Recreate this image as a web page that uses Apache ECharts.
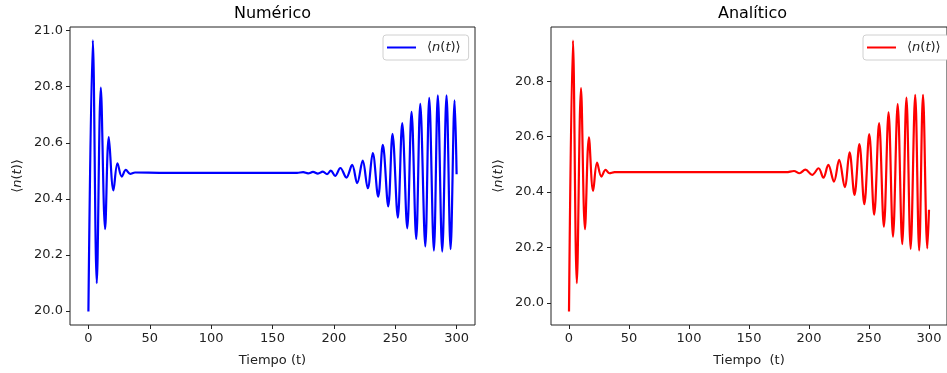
<!DOCTYPE html>
<html>
<head>
<meta charset="utf-8">
<script src="https://cdn.jsdelivr.net/npm/echarts@6/dist/echarts.min.js"></script>
<style>
  html, body { margin: 0; padding: 0; background: #fff; }
  #chart { width: 947px; height: 373px; }
</style>
</head>
<body>
<div id="chart"></div>
<script>
// Numérico: turning points
const tNum = [0, 3.6, 6.8, 10.1, 13.6, 16.6, 20.4, 23.7, 27.2, 30.5, 34, 38, 60, 100, 140, 170,
  175, 179, 183, 187, 191, 194.5, 197.5, 201, 205.3, 210.2, 214.9, 219.0, 223.5, 227.6, 231.7,
  236.1, 239.9, 244.3, 247.8, 252.1, 255.7, 259.8, 263.3, 267.1, 270.4, 274.5, 277.7, 281.5,
  284.7, 288.3, 291.8, 295.1, 298.4, 300]
const nNum = [19.998, 20.965, 20.099, 20.797, 20.292, 20.620, 20.430, 20.527, 20.479, 20.503,
  20.489, 20.494, 20.493, 20.493, 20.493, 20.493, 20.495, 20.491, 20.496, 20.490, 20.497,
  20.488, 20.501, 20.482, 20.510, 20.476, 20.521, 20.456, 20.536, 20.438, 20.563, 20.408,
  20.593, 20.373, 20.632, 20.333, 20.670, 20.295, 20.710, 20.257, 20.739, 20.230, 20.760,
  20.215, 20.769, 20.212, 20.769, 20.221, 20.751, 20.488]

// Analítico
const tAna = [0, 3.3, 6.5, 10.0, 13.3, 16.6, 20.1, 23.4, 27.0, 30.5, 33.7, 38, 60, 100, 140, 175,
  181, 187.5, 192, 197, 202.6, 208.0, 212.0, 216.1, 220.8, 225.1, 229.8, 233.8, 237.9, 242.0,
  246.1, 250.2, 254.3, 258.4, 262.4, 266.3, 270.0, 273.9, 277.7, 281.2, 284.7, 288.5, 291.8,
  295.0, 298.6, 300]
const nAna = [19.969, 20.947, 20.071, 20.775, 20.266, 20.598, 20.404, 20.506, 20.456, 20.480,
  20.468, 20.472, 20.472, 20.472, 20.472, 20.472, 20.472, 20.476, 20.468, 20.481, 20.462,
  20.486, 20.452, 20.498, 20.438, 20.516, 20.418, 20.543, 20.390, 20.573, 20.356, 20.609,
  20.318, 20.649, 20.275, 20.688, 20.239, 20.718, 20.212, 20.741, 20.195, 20.751, 20.189,
  20.751, 20.197, 20.336]

const xTicks = [0, 50, 100, 150, 200, 250, 300]
const yTicksNum = [20.0, 20.2, 20.4, 20.6, 20.8, 21.0]
const yTicksAna = [20.0, 20.2, 20.4, 20.6, 20.8]

const FONT = 'DejaVu Sans'
const INK = '#222'
const nLabel = '⟨{i|n}({i|t})⟩'
const rich = { i: { fontStyle: 'italic', fontFamily: FONT, fontSize: 13, color: INK } }

const chart = echarts.init(document.getElementById('chart'))

function xAxis(idx, name) {
  return {
    type: 'value', gridIndex: idx, min: -15, max: 315,
    name, nameLocation: 'middle', nameGap: 29,
    nameTextStyle: { fontFamily: FONT, fontSize: 13, color: INK },
    axisLine: { show: false, onZero: false },
    axisTick: { show: true, inside: false, length: 4, customValues: xTicks, lineStyle: { color: INK } },
    axisLabel: { customValues: xTicks, margin: 7, fontFamily: FONT, fontSize: 13, color: INK },
    splitLine: { show: false },
  }
}

function yAxis(idx, min, max, ticks) {
  return {
    type: 'value', gridIndex: idx, min, max,
    name: nLabel, nameLocation: 'middle', nameGap: 46,
    nameTextStyle: { fontFamily: FONT, fontSize: 13, color: INK, rich },
    axisLine: { show: false, onZero: false },
    axisTick: { show: true, inside: false, length: 4, customValues: ticks, lineStyle: { color: INK } },
    axisLabel: {
      customValues: ticks, margin: 7, fontFamily: FONT, fontSize: 13, color: INK,
      formatter: v => v.toFixed(1),
    },
    splitLine: { show: false },
  }
}

function legend(left, name) {
  return {
    data: [name], left, top: 35, orient: 'vertical',
    icon: 'rect', itemWidth: 29, itemHeight: 2,
    backgroundColor: '#fff', borderColor: '#d0d0d0', borderWidth: 1, borderRadius: 3,
    padding: [6, 8, 6, 4],
    formatter: () => nLabel,
    textStyle: { fontFamily: FONT, fontSize: 13, color: INK, padding: [0, 0, 0, 6], rich },
  }
}

chart.setOption({
  animation: false,
  title: [
    { text: 'Numérico', left: 272.5, top: 6, textAlign: 'center', padding: 0,
      textStyle: { fontFamily: FONT, fontSize: 16, fontWeight: 'normal', color: '#000' } },
    { text: 'Analítico', left: 752.5, top: 6, textAlign: 'center', padding: 0,
      textStyle: { fontFamily: FONT, fontSize: 16, fontWeight: 'normal', color: '#000' } },
  ],
  grid: [
    { left: 70, top: 27, width: 405, height: 298, show: true, borderColor: INK, borderWidth: 1 },
    { left: 551, top: 27, width: 403, height: 298, show: true, borderColor: INK, borderWidth: 1 },
  ],
  legend: [legend(383, 'num'), legend(863, 'ana')],
  xAxis: [xAxis(0, 'Tiempo (t)'), xAxis(1, 'Tiempo  (t)')],
  yAxis: [yAxis(0, 19.95, 21.013, yTicksNum), yAxis(1, 19.92, 20.996, yTicksAna)],
  series: [
    {
      name: 'num', type: 'line', xAxisIndex: 0, yAxisIndex: 0,
      data: tNum.map((t, i) => [t, nNum[i]]),
      symbol: 'none', smooth: 0.36, color: '#0000ff',
      lineStyle: { width: 2.2, color: '#0000ff' },
    },
    {
      name: 'ana', type: 'line', xAxisIndex: 1, yAxisIndex: 1,
      data: tAna.map((t, i) => [t, nAna[i]]),
      symbol: 'none', smooth: 0.36, color: '#ff0000',
      lineStyle: { width: 2.2, color: '#ff0000' },
    },
  ],
})
</script>
</body>
</html>
